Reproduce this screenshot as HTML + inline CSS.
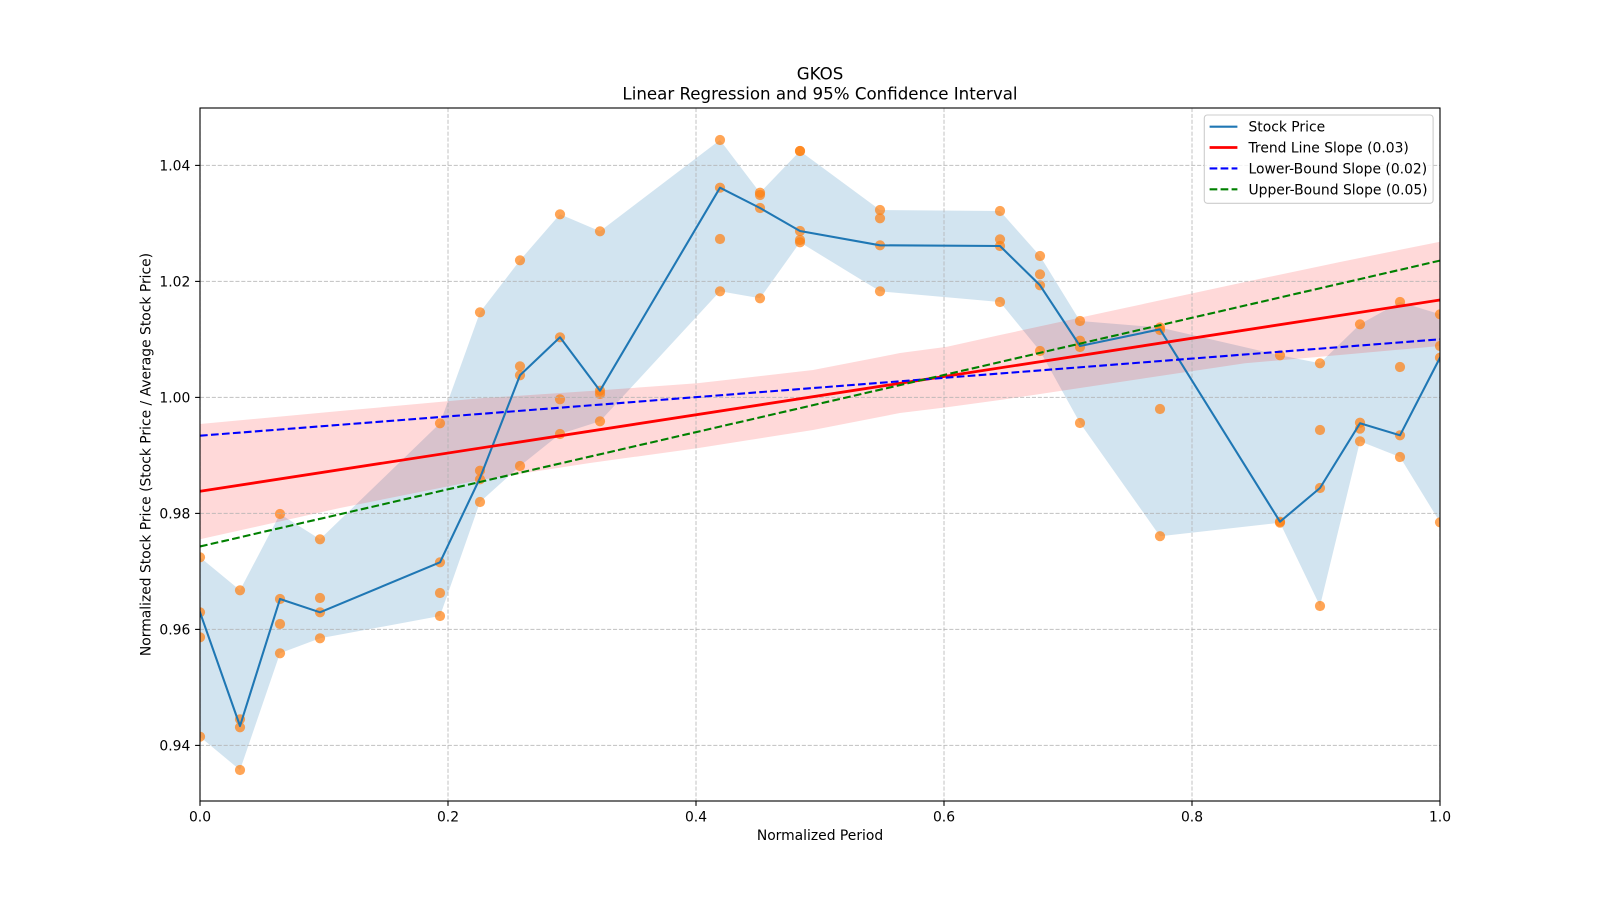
<!DOCTYPE html>
<html>
<head>
<meta charset="utf-8">
<style>
html,body{margin:0;padding:0;background:#fff;}
svg{display:block;}
text{font-family:"DejaVu Sans","Liberation Sans",sans-serif;fill:#000;}
</style>
</head>
<body>
<svg width="1600" height="900" viewBox="0 0 1600 900" xmlns="http://www.w3.org/2000/svg">
<defs>
<clipPath id="ax"><rect x="200" y="108" width="1240" height="693"/></clipPath>
</defs>
<rect x="0" y="0" width="1600" height="900" fill="#fff"/>

<g clip-path="url(#ax)">
<!-- blue price band -->
<polygon fill="#1f77b4" fill-opacity="0.2" points="200,557.3 240,590.3 280,514 320,539.3 440,423.3 480,312.3 520,260.3 560,214.3 600,231.3 720,140 760,192.7 800,151 880,210 1000,211 1040,256 1080,321 1160,327.5 1280,355.3 1320,363.3 1360,324.3 1400,302 1440,314.3 1440,522.3 1400,457 1360,441.3 1320,606 1280,522.7 1160,536.2 1080,423 1040,351 1000,302 880,291.3 800,242.3 760,298.3 720,291.3 600,421.3 560,434 520,466 480,502 440,616 320,638.3 280,653.3 240,770 200,736.7"/>
<!-- pink regression CI band -->
<polygon fill="#ff0000" fill-opacity="0.15" points="200,424 340,411 480,398.3 590,391 697,383.3 813,370 880,357 900,353 947,346.7 1000,335 1120,309 1245,282 1340,262 1440,241.7 1440,346 1340,355 1245,363.3 1120,382 1000,400 947,407.3 900,413 813,430 697,448.3 590,463 480,480 340,508 200,539.3"/>

<!-- scatter -->
<g fill="#ff7f0e" fill-opacity="0.7">
<circle cx="200" cy="557.3" r="5.1"/><circle cx="200" cy="612.3" r="5.1"/><circle cx="200" cy="637.3" r="5.1"/><circle cx="200" cy="736.7" r="5.1"/>
<circle cx="240" cy="590.3" r="5.1"/><circle cx="240" cy="719.3" r="5.1"/><circle cx="240" cy="727.3" r="5.1"/><circle cx="240" cy="770" r="5.1"/>
<circle cx="280" cy="514" r="5.1"/><circle cx="280" cy="599" r="5.1"/><circle cx="280" cy="624" r="5.1"/><circle cx="280" cy="653.3" r="5.1"/>
<circle cx="320" cy="539.3" r="5.1"/><circle cx="320" cy="598" r="5.1"/><circle cx="320" cy="612.3" r="5.1"/><circle cx="320" cy="638.3" r="5.1"/>
<circle cx="440" cy="423.3" r="5.1"/><circle cx="440" cy="562.3" r="5.1"/><circle cx="440" cy="593" r="5.1"/><circle cx="440" cy="616" r="5.1"/>
<circle cx="480" cy="312.3" r="5.1"/><circle cx="480" cy="470.7" r="5.1"/><circle cx="480" cy="479.3" r="5.1"/><circle cx="480" cy="502" r="5.1"/>
<circle cx="520" cy="260.3" r="5.1"/><circle cx="520" cy="366.3" r="5.1"/><circle cx="520" cy="375.3" r="5.1"/><circle cx="520" cy="466" r="5.1"/>
<circle cx="560" cy="214.3" r="5.1"/><circle cx="560" cy="337.3" r="5.1"/><circle cx="560" cy="399.3" r="5.1"/><circle cx="560" cy="434" r="5.1"/>
<circle cx="600" cy="231.3" r="5.1"/><circle cx="600" cy="390.7" r="5.1"/><circle cx="600" cy="394" r="5.1"/><circle cx="600" cy="421.3" r="5.1"/>
<circle cx="720" cy="140" r="5.1"/><circle cx="720" cy="187.7" r="5.1"/><circle cx="720" cy="239" r="5.1"/><circle cx="720" cy="291.3" r="5.1"/>
<circle cx="760" cy="192.7" r="5.1"/><circle cx="760" cy="195" r="5.1"/><circle cx="760" cy="208" r="5.1"/><circle cx="760" cy="298.3" r="5.1"/>
<circle cx="800" cy="151" r="5.1"/><circle cx="800" cy="151" r="5.1"/><circle cx="800" cy="231" r="5.1"/><circle cx="800" cy="240" r="5.1"/><circle cx="800" cy="242.3" r="5.1"/>
<circle cx="880" cy="210" r="5.1"/><circle cx="880" cy="218.3" r="5.1"/><circle cx="880" cy="245.3" r="5.1"/><circle cx="880" cy="291.3" r="5.1"/>
<circle cx="1000" cy="211" r="5.1"/><circle cx="1000" cy="239.3" r="5.1"/><circle cx="1000" cy="246" r="5.1"/><circle cx="1000" cy="302" r="5.1"/>
<circle cx="1040" cy="256" r="5.1"/><circle cx="1040" cy="274.3" r="5.1"/><circle cx="1040" cy="285.3" r="5.1"/><circle cx="1040" cy="351" r="5.1"/>
<circle cx="1080" cy="321" r="5.1"/><circle cx="1080" cy="340.7" r="5.1"/><circle cx="1080" cy="347" r="5.1"/><circle cx="1080" cy="423" r="5.1"/>
<circle cx="1160" cy="327.5" r="5.1"/><circle cx="1160" cy="330" r="5.1"/><circle cx="1160" cy="409" r="5.1"/><circle cx="1160" cy="536.2" r="5.1"/>
<circle cx="1280" cy="355.3" r="5.1"/><circle cx="1280" cy="521.7" r="5.1"/><circle cx="1280" cy="522.7" r="5.1"/>
<circle cx="1320" cy="363.3" r="5.1"/><circle cx="1320" cy="430" r="5.1"/><circle cx="1320" cy="488" r="5.1"/><circle cx="1320" cy="606" r="5.1"/>
<circle cx="1360" cy="324.3" r="5.1"/><circle cx="1360" cy="422.7" r="5.1"/><circle cx="1360" cy="428.7" r="5.1"/><circle cx="1360" cy="441.3" r="5.1"/>
<circle cx="1400" cy="302" r="5.1"/><circle cx="1400" cy="367" r="5.1"/><circle cx="1400" cy="435.3" r="5.1"/><circle cx="1400" cy="457" r="5.1"/>
<circle cx="1440" cy="314.3" r="5.1"/><circle cx="1440" cy="346" r="5.1"/><circle cx="1440" cy="357.7" r="5.1"/><circle cx="1440" cy="522.3" r="5.1"/>
</g>

<!-- grid -->
<g stroke="#b0b0b0" stroke-opacity="0.7" stroke-width="1.1" stroke-dasharray="4.1,1.8" fill="none">
<line x1="200" y1="108" x2="200" y2="801"/>
<line x1="448" y1="108" x2="448" y2="801"/>
<line x1="696" y1="108" x2="696" y2="801"/>
<line x1="944" y1="108" x2="944" y2="801"/>
<line x1="1192" y1="108" x2="1192" y2="801"/>
<line x1="1440" y1="108" x2="1440" y2="801"/>
<line x1="200" y1="165.4" x2="1440" y2="165.4"/>
<line x1="200" y1="281.4" x2="1440" y2="281.4"/>
<line x1="200" y1="397.4" x2="1440" y2="397.4"/>
<line x1="200" y1="513.4" x2="1440" y2="513.4"/>
<line x1="200" y1="629.4" x2="1440" y2="629.4"/>
<line x1="200" y1="745.4" x2="1440" y2="745.4"/>
</g>

<!-- stock price line -->
<polyline fill="none" stroke="#1f77b4" stroke-width="2.08" stroke-linejoin="round" stroke-linecap="square" points="200,612.3 240,726 280,599 320,612.3 440,562.3 480,478 520,375.3 560,337.3 600,390.7 720,187.7 760,208 800,231 880,245.3 1000,246 1040,285.3 1080,346 1160,329.3 1280,521.7 1320,488 1360,423.3 1400,435.3 1440,357.7"/>

<!-- trend line -->
<line x1="200" y1="491.3" x2="1440" y2="300" stroke="#ff0000" stroke-width="2.8"/>
<!-- lower bound -->
<line x1="200" y1="435.7" x2="1440" y2="339.3" stroke="#0000ff" stroke-width="2.08" stroke-dasharray="7.7,3.3"/>
<!-- upper bound -->
<line x1="200" y1="546.5" x2="1440" y2="260.6" stroke="#008000" stroke-width="2.08" stroke-dasharray="7.7,3.3"/>
</g>

<!-- spines -->
<rect x="200" y="108" width="1240" height="693" fill="none" stroke="#000" stroke-width="1.1"/>

<!-- ticks -->
<g stroke="#000" stroke-width="1.1">
<line x1="200" y1="801" x2="200" y2="805.9"/>
<line x1="448" y1="801" x2="448" y2="805.9"/>
<line x1="696" y1="801" x2="696" y2="805.9"/>
<line x1="944" y1="801" x2="944" y2="805.9"/>
<line x1="1192" y1="801" x2="1192" y2="805.9"/>
<line x1="1440" y1="801" x2="1440" y2="805.9"/>
<line x1="195.1" y1="165.4" x2="200" y2="165.4"/>
<line x1="195.1" y1="281.4" x2="200" y2="281.4"/>
<line x1="195.1" y1="397.4" x2="200" y2="397.4"/>
<line x1="195.1" y1="513.4" x2="200" y2="513.4"/>
<line x1="195.1" y1="629.4" x2="200" y2="629.4"/>
<line x1="195.1" y1="745.4" x2="200" y2="745.4"/>
</g>

<g font-size="13.89" text-anchor="middle">
<text x="200" y="821.3">0.0</text>
<text x="448" y="821.3">0.2</text>
<text x="696" y="821.3">0.4</text>
<text x="944" y="821.3">0.6</text>
<text x="1192" y="821.3">0.8</text>
<text x="1440" y="821.3">1.0</text>
</g>
<g font-size="13.89" text-anchor="end">
<text x="190.3" y="170.4">1.04</text>
<text x="190.3" y="286.4">1.02</text>
<text x="190.3" y="402.4">1.00</text>
<text x="190.3" y="518.4">0.98</text>
<text x="190.3" y="634.4">0.96</text>
<text x="190.3" y="750.4">0.94</text>
</g>

<text x="820" y="840.2" font-size="13.89" text-anchor="middle">Normalized Period</text>
<text transform="translate(150.6,454.5) rotate(-90)" font-size="13.89" text-anchor="middle">Normalized Stock Price (Stock Price / Average Stock Price)</text>

<text x="820" y="79.7" font-size="16.67" text-anchor="middle">GKOS</text>
<text x="820" y="99.7" font-size="16.67" text-anchor="middle">Linear Regression and 95% Confidence Interval</text>

<!-- legend -->
<rect x="1204.3" y="115" width="228.8" height="88.3" rx="3" ry="3" fill="#fff" fill-opacity="0.8" stroke="#cccccc" stroke-width="1.1"/>
<line x1="1209.6" y1="126.7" x2="1237.4" y2="126.7" stroke="#1f77b4" stroke-width="2.08"/>
<line x1="1209.6" y1="147.5" x2="1237.4" y2="147.5" stroke="#ff0000" stroke-width="2.8"/>
<line x1="1209.6" y1="168.4" x2="1237.4" y2="168.4" stroke="#0000ff" stroke-width="2.08" stroke-dasharray="7.7,3.3"/>
<line x1="1209.6" y1="189.3" x2="1237.4" y2="189.3" stroke="#008000" stroke-width="2.08" stroke-dasharray="7.7,3.3"/>
<g font-size="13.89">
<text x="1248.5" y="131.7">Stock Price</text>
<text x="1248.5" y="152.5">Trend Line Slope (0.03)</text>
<text x="1248.5" y="173.4">Lower-Bound Slope (0.02)</text>
<text x="1248.5" y="194.3">Upper-Bound Slope (0.05)</text>
</g>
</svg>
</body>
</html>
